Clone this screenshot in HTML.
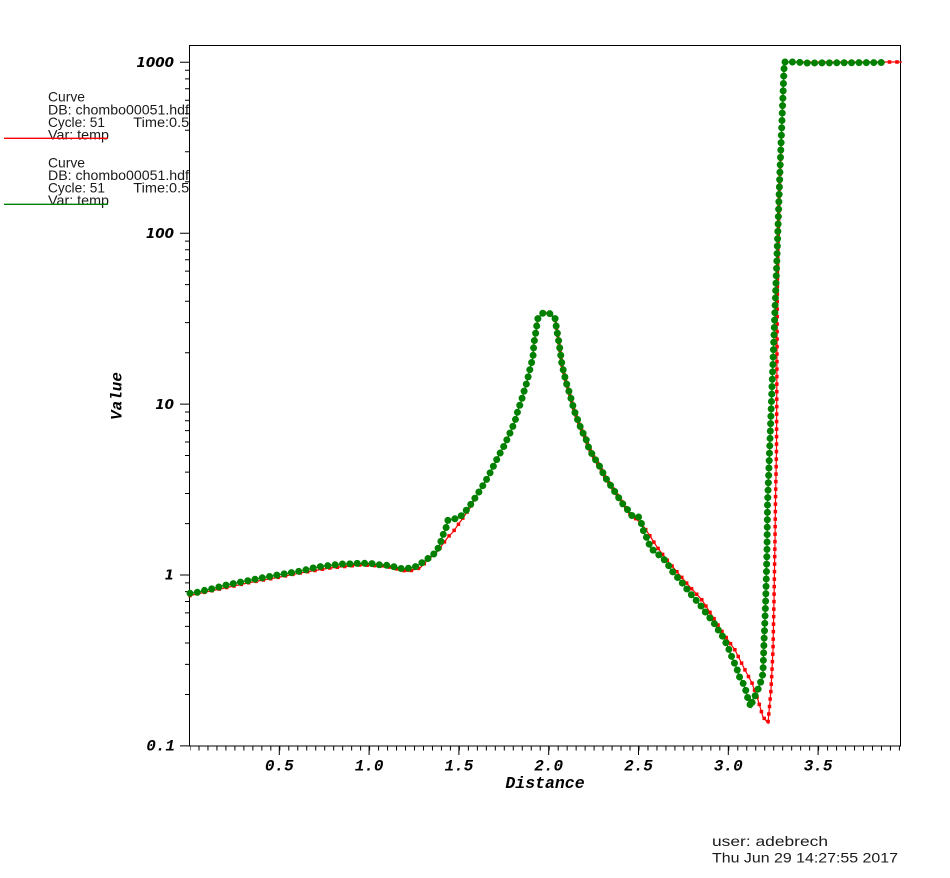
<!DOCTYPE html>
<html>
<head>
<meta charset="utf-8">
<style>
html,body{margin:0;padding:0;background:#fff;}
svg{display:block;}
.leg{font-family:"Liberation Sans",sans-serif;font-size:14px;fill:#1a1a1a;}
.yl{font-family:"DejaVu Sans","Liberation Sans",sans-serif;font-size:13.5px;font-weight:bold;font-style:italic;fill:#000;}
.mono{font-family:"Liberation Mono",monospace;font-weight:bold;font-style:italic;fill:#000;}
</style>
</head>
<body>
<svg width="950" height="878" viewBox="0 0 950 878" xmlns="http://www.w3.org/2000/svg">
<defs>
  <clipPath id="legclip"><rect x="0" y="0" width="189" height="878"/></clipPath>
  <pattern id="xminor" patternUnits="userSpaceOnUse" x="189.5" y="746" width="8.98" height="10">
    <rect x="0" y="0" width="1" height="10" fill="#000"/>
  </pattern>
</defs>
<rect x="0" y="0" width="950" height="878" fill="#fff"/>

<!-- Legend -->
<g clip-path="url(#legclip)">
  <text class="leg" x="48" y="101.7" textLength="37" lengthAdjust="spacingAndGlyphs">Curve</text>
  <text class="leg" x="48" y="114.3" textLength="141" lengthAdjust="spacingAndGlyphs">DB: chombo00051.hdf</text>
  <text class="leg" x="48" y="126.9" textLength="57" lengthAdjust="spacingAndGlyphs">Cycle: 51</text>
  <text class="leg" x="133.3" y="126.9" textLength="64" lengthAdjust="spacingAndGlyphs">Time:0.51</text>
  <text class="leg" x="48" y="139.3" textLength="61" lengthAdjust="spacingAndGlyphs">Var: temp</text>

  <text class="leg" x="48" y="167.5" textLength="37" lengthAdjust="spacingAndGlyphs">Curve</text>
  <text class="leg" x="48" y="180.1" textLength="141" lengthAdjust="spacingAndGlyphs">DB: chombo00051.hdf</text>
  <text class="leg" x="48" y="192.7" textLength="57" lengthAdjust="spacingAndGlyphs">Cycle: 51</text>
  <text class="leg" x="133.3" y="192.7" textLength="64" lengthAdjust="spacingAndGlyphs">Time:0.51</text>
  <text class="leg" x="48" y="205.1" textLength="61" lengthAdjust="spacingAndGlyphs">Var: temp</text>
</g>
<line x1="4" y1="138.3" x2="108" y2="138.3" stroke="#ff0000" stroke-width="1.3"/>
<line x1="4" y1="204.3" x2="108" y2="204.3" stroke="#008000" stroke-width="1.3"/>

<!-- Frame -->
<rect x="189.5" y="45.5" width="711" height="700.5" fill="none" stroke="#000" stroke-width="1"/>

<!-- Y ticks -->
<path stroke="#000" stroke-width="1" fill="none" d="
M180,62.3H189.5 M180,233.2H189.5 M180,404.1H189.5 M180,575H189.5 M180,745.9H189.5
M185,694.5H189.5 M185,664.4H189.5 M185,643H189.5 M185,626.4H189.5 M185,612.9H189.5 M185,601.5H189.5 M185,591.6H189.5 M185,582.9H189.5
M185,523.6H189.5 M185,493.5H189.5 M185,472.1H189.5 M185,455.5H189.5 M185,442H189.5 M185,430.6H189.5 M185,420.7H189.5 M185,412H189.5
M185,352.7H189.5 M185,322.6H189.5 M185,301.2H189.5 M185,284.6H189.5 M185,271.1H189.5 M185,259.7H189.5 M185,249.8H189.5 M185,241.1H189.5
M185,181.8H189.5 M185,151.7H189.5 M185,130.3H189.5 M185,113.7H189.5 M185,100.2H189.5 M185,88.8H189.5 M185,78.9H189.5 M185,70.2H189.5
"/>
<!-- X ticks -->
<rect x="190" y="746" width="710" height="4.5" fill="url(#xminor)"/>
<path stroke="#000" stroke-width="1" fill="none" d="M279.3,746V755 M369.1,746V755 M458.9,746V755 M548.7,746V755 M638.5,746V755 M728.3,746V755 M818.1,746V755"/>

<!-- Y labels -->
<text class="yl" x="174" y="67" text-anchor="end">1000</text>
<text class="yl" x="174" y="237.9" text-anchor="end">100</text>
<text class="yl" x="174" y="408.8" text-anchor="end">10</text>
<text class="yl" x="174" y="579.7" text-anchor="end">1</text>
<text class="mono" x="175" y="750.7" font-size="16" text-anchor="end">0.1</text>

<!-- X labels -->
<text class="mono" font-size="16" x="279.3" y="770.5" text-anchor="middle">0.5</text>
<text class="mono" font-size="16" x="369.1" y="770.5" text-anchor="middle">1.0</text>
<text class="mono" font-size="16" x="458.9" y="770.5" text-anchor="middle">1.5</text>
<text class="mono" font-size="16" x="548.7" y="770.5" text-anchor="middle">2.0</text>
<text class="mono" font-size="16" x="638.5" y="770.5" text-anchor="middle">2.5</text>
<text class="mono" font-size="16" x="728.3" y="770.5" text-anchor="middle">3.0</text>
<text class="mono" font-size="16" x="818.1" y="770.5" text-anchor="middle">3.5</text>

<text class="mono" font-size="16.5" x="545" y="788" text-anchor="middle">Distance</text>
<text class="mono" font-size="16" transform="translate(121.7,396) rotate(-90)" text-anchor="middle">Value</text>

<!-- Red curve -->
<g fill="none">
<polyline stroke="#ff0000" stroke-width="1.2" points="190,595.5 220,589 250,582.5 280,577 300,573 330,568 360,565 385,566 408,571.5 420,568 430,558 437,552 448,537 453,532 470,508 477,495 482,487 488,477 493,467 498,457 504,446 510,433 513,426 516,418 518,410 521,402 523,395 525,388 527,382 529,373 531,365 533,357 533.5,349 534,343 535,337 536,331 537,324 538,318 543,313 549,313 555,318 556,325 557,331 558,337 559,343 560,350 561,357 562,365 564,373 566,382 568,388 570,395 572,402 574,410 577,418 580,426 583,433 586,439 588,446 593,456 597,462 600,467 605,477 611,486 617,495 622,502 630,514 642,524 650,536 657,547 667,560 678,573 690,587 702,600 713,617 723,633 735,650 745,670 752,683 758,700 763,717 768,723 769,712 771,690 773,650 774,600 775,540 775.5,500 776.5,450 777,350 777.5,270 779,200 781,150 784.3,62 902,62"/>
<polyline stroke="#ff0000" stroke-width="3.5" stroke-linecap="square" stroke-dasharray="0 7.5" points="190,595.5 220,589 250,582.5 280,577 300,573 330,568 360,565 385,566 408,571.5 420,568 430,558 437,552 448,537 453,532 470,508 477,495 482,487 488,477 493,467 498,457 504,446 510,433 513,426 516,418 518,410 521,402 523,395 525,388 527,382 529,373 531,365 533,357 533.5,349 534,343 535,337 536,331 537,324 538,318 543,313 549,313 555,318 556,325 557,331 558,337 559,343 560,350 561,357 562,365 564,373 566,382 568,388 570,395 572,402 574,410 577,418 580,426 583,433 586,439 588,446 593,456 597,462 600,467 605,477 611,486 617,495 622,502 630,514 642,524 650,536 657,547 667,560 678,573 690,587 702,600 713,617 723,633 735,650 745,670 752,683 758,700 763,717 768,723 769,712 771,690 773,650 774,600 775,540 775.5,500 776.5,450 777,350 777.5,270 779,200 781,150 784.3,62 902,62"/>
</g>

<!-- Green curve -->
<g fill="none">
<polyline stroke="#008000" stroke-width="1.2" points="190,593.3 197.3,592.3 205,590.3 212.7,588.7 220,586.7 227.7,584.7 235,583.3 242.3,581.7 250,580.3 257.3,578.7 265,577.3 272.3,576 279.3,574.7 291,572.7 296.7,571.7 302.3,570.7 313.3,568 319.3,566.7 325,566 336,564.7 341.7,564 347.3,564 358.7,563.3 364,563.3 369.7,563.3 380.7,565 386.7,565.3 392.3,566.3 397.7,567.7 403.3,569 414.3,567.3 420,564 425.7,560.3 436.3,552 440,544 443,535 446,528 448,520 459,518 465,512 471,504 477,495 482,487 488,477 493,467 498,457 504,446 510,433 513,426 516,418 518,410 521,402 523,395 525,388 527,382 529,373 531,365 533,357 533.5,349 534,343 535,337 536,331 537,324 538,318 543,313 549,313 555,318 556,325 557,331 558,337 559,343 560,350 561,357 562,365 564,373 566,382 568,388 570,395 572,402 574,410 577,418 580,426 583,433 586,439 588,446 593,456 597,462 600,467 605,477 611,486 617,495 622,503 627,509 633,517 639,517 642,525 644,533 648,540 650,547 656,553 662,557 667,563 672,571 678,578 684,585 689,592 695,599 701,606 706,613 710,618 714,623 717,628 723,637 728,647 731,655 734,662 737,669 739,676 743,683 746,691 748,699 751,707 753,699 757,693 759,686 762,679 763,672 763.5,657 764,642 765,619 766,590 767,550 767.5,505 776.5,270 780,170 784.3,62 790,62 796,62 807,63 885,62.5"/>
<polyline stroke="#008000" stroke-width="7" stroke-linecap="round" stroke-dasharray="0 7.4" points="190,593.3 197.3,592.3 205,590.3 212.7,588.7 220,586.7 227.7,584.7 235,583.3 242.3,581.7 250,580.3 257.3,578.7 265,577.3 272.3,576 279.3,574.7 291,572.7 296.7,571.7 302.3,570.7 313.3,568 319.3,566.7 325,566 336,564.7 341.7,564 347.3,564 358.7,563.3 364,563.3 369.7,563.3 380.7,565 386.7,565.3 392.3,566.3 397.7,567.7 403.3,569 414.3,567.3 420,564 425.7,560.3 436.3,552 440,544 443,535 446,528 448,520 459,518 465,512 471,504 477,495 482,487 488,477 493,467 498,457 504,446 510,433 513,426 516,418 518,410 521,402 523,395 525,388 527,382 529,373 531,365 533,357 533.5,349 534,343 535,337 536,331 537,324 538,318 543,313 549,313 555,318 556,325 557,331 558,337 559,343 560,350 561,357 562,365 564,373 566,382 568,388 570,395 572,402 574,410 577,418 580,426 583,433 586,439 588,446 593,456 597,462 600,467 605,477 611,486 617,495 622,503 627,509 633,517 639,517 642,525 644,533 648,540 650,547 656,553 662,557 667,563 672,571 678,578 684,585 689,592 695,599 701,606 706,613 710,618 714,623 717,628 723,637 728,647 731,655 734,662 737,669 739,676 743,683 746,691 748,699 751,707 753,699 757,693 759,686 762,679 763,672 763.5,657 764,642 765,619 766,590 767,550 767.5,505 776.5,270 780,170 784.3,62 790,62 796,62 807,63 885,62.5"/>
</g>

<!-- Footer -->
<text class="leg" x="712" y="846" font-size="14.5" textLength="116" lengthAdjust="spacingAndGlyphs">user: adebrech</text>
<text class="leg" x="712" y="862.7" font-size="14.5" textLength="186" lengthAdjust="spacingAndGlyphs">Thu Jun 29 14:27:55 2017</text>
</svg>
</body>
</html>
